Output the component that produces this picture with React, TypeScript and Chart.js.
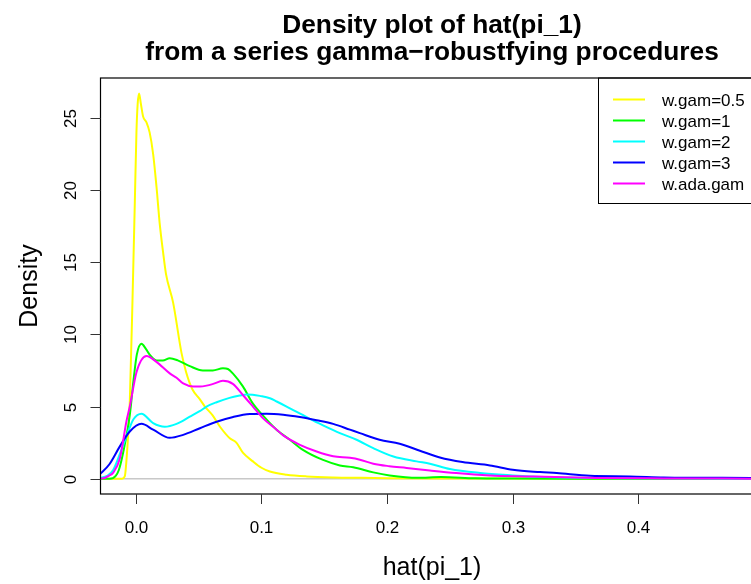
import React, { useEffect, useRef } from "react";
import { Chart, registerables } from "chart.js";

Chart.register(...registerables);

// ---- data ----
const gam05X = [-0.0287, -0.011, -0.0088, -0.007, -0.0048, -0.0026, -0.0008, 0.0005, 0.0015, 0.0026, 0.004, 0.0058, 0.0085, 0.011, 0.0138, 0.0165, 0.019, 0.0217, 0.024, 0.0297, 0.0364, 0.04, 0.045, 0.051, 0.055, 0.061, 0.067, 0.0748, 0.08, 0.0852, 0.0932, 0.1, 0.1067, 0.12, 0.136, 0.157, 0.18, 0.2, 0.25, 0.3, 0.4, 0.49];
const gam05Y = [0, 0, 0.16, 1.8, 5.3, 12.5, 19.1, 24.0, 26.0, 26.7, 26.0, 25.1, 24.7, 24.0, 22.5, 20.2, 17.7, 15.7, 14.2, 12.2, 8.7, 7.4, 6.2, 5.5, 5.0, 4.4, 3.6, 2.8, 2.5, 1.8, 1.2, 0.76, 0.5, 0.28, 0.16, 0.09, 0.06, 0.04, 0.02, 0.01, 0, 0];

const gam1X = [-0.0287, -0.0207, -0.016, -0.0135, -0.0101, -0.0048, -0.0016, 0.0008, 0.0045, 0.008, 0.011, 0.0165, 0.0215, 0.027, 0.0334, 0.043, 0.0533, 0.0613, 0.0693, 0.0733, 0.0772, 0.0852, 0.0932, 0.101, 0.112, 0.1226, 0.133, 0.149, 0.1624, 0.173, 0.189, 0.202, 0.224, 0.243, 0.27, 0.3, 0.35, 0.49];
const gam1Y = [0, 0, 0.2, 0.6, 1.8, 4.4, 7.0, 8.6, 9.35, 9.0, 8.6, 8.2, 8.2, 8.35, 8.2, 7.8, 7.5, 7.5, 7.65, 7.6, 7.3, 6.4, 5.2, 4.4, 3.4, 2.7, 2.0, 1.3, 0.92, 0.8, 0.44, 0.23, 0.06, 0.12, 0.03, 0.01, 0, 0];

const gam2X = [-0.0287, -0.0228, -0.018, -0.0102, -0.005, -0.002, 0.0045, 0.0138, 0.0231, 0.0324, 0.043, 0.0512, 0.0563, 0.0643, 0.0746, 0.0827, 0.0881, 0.093, 0.0987, 0.1067, 0.1121, 0.12, 0.1253, 0.1332, 0.1385, 0.149, 0.1624, 0.1757, 0.189, 0.205, 0.2235, 0.234, 0.25, 0.274, 0.3, 0.314, 0.34, 0.367, 0.4, 0.45, 0.49];
const gam2Y = [0.05, 0.2, 0.6, 2.3, 3.5, 4.1, 4.5, 3.85, 3.6, 3.8, 4.3, 4.7, 5.0, 5.3, 5.6, 5.76, 5.84, 5.82, 5.74, 5.58, 5.35, 5.0, 4.75, 4.4, 4.15, 3.7, 3.16, 2.7, 2.12, 1.54, 1.2, 1.04, 0.67, 0.4, 0.23, 0.16, 0.09, 0.05, 0.03, 0.01, 0];

const gam3X = [-0.0287, -0.021, -0.0127, -0.0048, 0.0045, 0.0138, 0.027, 0.0377, 0.051, 0.0643, 0.0775, 0.0908, 0.1041, 0.1173, 0.1306, 0.1439, 0.1571, 0.1704, 0.1783, 0.194, 0.21, 0.2261, 0.242, 0.26, 0.2818, 0.3, 0.3217, 0.335, 0.3615, 0.393, 0.42, 0.49];
const gam3Y = [0.3, 1.0, 2.24, 3.27, 3.8, 3.4, 2.83, 3.04, 3.5, 3.95, 4.28, 4.48, 4.5, 4.43, 4.27, 4.05, 3.8, 3.4, 3.16, 2.7, 2.42, 1.94, 1.47, 1.15, 0.92, 0.62, 0.46, 0.39, 0.2, 0.16, 0.09, 0.05];

const adaX = [-0.0287, -0.0247, -0.0215, -0.0181, -0.0127, -0.0074, -0.0048, 0.0006, 0.0085, 0.0164, 0.027, 0.0324, 0.0377, 0.0457, 0.051, 0.0563, 0.0616, 0.0693, 0.0772, 0.0852, 0.0932, 0.1011, 0.1121, 0.1173, 0.1306, 0.1439, 0.1571, 0.1704, 0.1783, 0.189, 0.2017, 0.2155, 0.234, 0.255, 0.2818, 0.31, 0.367, 0.42, 0.49];
const adaY = [0.0, 0.05, 0.2, 0.4, 1.4, 4.0, 5.0, 7.4, 8.5, 8.1, 7.3, 7.0, 6.6, 6.39, 6.39, 6.45, 6.57, 6.78, 6.57, 5.8, 5.0, 4.2, 3.4, 3.0, 2.35, 1.89, 1.56, 1.45, 1.32, 1.04, 0.87, 0.75, 0.57, 0.39, 0.23, 0.16, 0.05, 0.02, 0];

const seriesNames = ["w.gam=0.5", "w.gam=1", "w.gam=2", "w.gam=3", "w.ada.gam"];
const seriesColors = ["#FFFF00", "#00FF00", "#00FFFF", "#0000FF", "#FF00FF"];
const xTicks = [0, 0.1, 0.2, 0.3, 0.4];
const xTickLabels = ["0.0", "0.1", "0.2", "0.3", "0.4"];
const yTicks = [0, 5, 10, 15, 20, 25];
const yTickLabels = ["0", "5", "10", "15", "20", "25"];
const titleLines = ["Density plot of hat(pi_1)", "from a series gamma\u2212robustfying procedures"];
const xTitle = "hat(pi_1)";
const yTitle = "Density";

const FONT = "'Liberation Sans', Arial, Helvetica, sans-serif";

function pts(xs: number[], ys: number[]) {
  return xs.map((x, i) => ({ x, y: ys[i] }));
}

const decorPlugin = {
  id: "rdecor",
  beforeDatasetsDraw(chart: any) {
    const { ctx, chartArea, scales } = chart;
    const y0 = scales.y.getPixelForValue(0);
    ctx.save();
    ctx.strokeStyle = "#c8c8c8";
    ctx.lineWidth = 1.5;
    ctx.beginPath();
    ctx.moveTo(chartArea.left, y0);
    ctx.lineTo(chartArea.right, y0);
    ctx.stroke();
    ctx.restore();
  },
  afterDraw(chart: any) {
    const { ctx, chartArea, scales } = chart;
    const xs = scales.x;
    const ys = scales.y;
    ctx.save();
    // plot frame
    ctx.strokeStyle = "#000";
    ctx.lineWidth = 1.2;
    ctx.strokeRect(chartArea.left, chartArea.top, chartArea.right + 20 - chartArea.left, chartArea.bottom - chartArea.top);

    // x ticks
    ctx.fillStyle = "#000";
    ctx.font = `17px ${FONT}`;
    ctx.textAlign = "center";
    ctx.textBaseline = "alphabetic";
    ctx.strokeStyle = "#333";
    ctx.lineWidth = 1;
    xTicks.forEach((v, i) => {
      const px = Math.round(xs.getPixelForValue(v)) + 0.5;
      ctx.beginPath();
      ctx.moveTo(px, chartArea.bottom);
      ctx.lineTo(px, chartArea.bottom + 10);
      ctx.stroke();
      ctx.fillText(xTickLabels[i], px, 533);
    });
    // y ticks
    yTicks.forEach((v, i) => {
      const py = Math.round(ys.getPixelForValue(v)) + 0.5;
      ctx.beginPath();
      ctx.moveTo(chartArea.left - 10, py);
      ctx.lineTo(chartArea.left, py);
      ctx.stroke();
      ctx.save();
      ctx.translate(76, py);
      ctx.rotate(-Math.PI / 2);
      ctx.fillText(yTickLabels[i], 0, 0);
      ctx.restore();
    });

    // axis titles
    ctx.font = `25px ${FONT}`;
    ctx.fillText(xTitle, 432, 575);
    ctx.save();
    ctx.translate(37, (chartArea.top + chartArea.bottom) / 2);
    ctx.rotate(-Math.PI / 2);
    ctx.fillText(yTitle, 0, 0);
    ctx.restore();

    // main title
    ctx.font = `bold 26.3px ${FONT}`;
    ctx.fillText(titleLines[0], 432, 33);
    ctx.fillText(titleLines[1], 432, 60);

    // legend
    ctx.strokeStyle = "#000";
    ctx.lineWidth = 1;
    ctx.strokeRect(598.5, chartArea.top, 200, 125.5);
    ctx.font = `17px ${FONT}`;
    ctx.textAlign = "left";
    seriesNames.forEach((name, i) => {
      const ly = 99.5 + i * 21;
      ctx.strokeStyle = seriesColors[i];
      ctx.lineWidth = 2;
      ctx.beginPath();
      ctx.moveTo(613, ly);
      ctx.lineTo(645, ly);
      ctx.stroke();
      ctx.fillStyle = "#000";
      ctx.fillText(name, 662, ly + 6);
    });
    ctx.restore();
  },
};

export default function App() {
  const ref = useRef<HTMLCanvasElement | null>(null);
  useEffect(() => {
    if (!ref.current) return;
    const xsList = [gam05X, gam1X, gam2X, gam3X, adaX];
    const ysList = [gam05Y, gam1Y, gam2Y, gam3Y, adaY];
    const chart = new Chart(ref.current, {
      type: "line",
      data: {
        datasets: seriesNames.map((name, i) => ({
          label: name,
          data: pts(xsList[i], ysList[i]),
          borderColor: seriesColors[i],
          borderWidth: 2,
          pointRadius: 0,
          fill: false,
          cubicInterpolationMode: "monotone" as const,
          order: 5 - i,
        })),
      },
      options: {
        responsive: false,
        animation: false,
        devicePixelRatio: 1,
        layout: { padding: { left: 100.5, top: 78, right: 0, bottom: 90 } },
        plugins: { legend: { display: false }, title: { display: false }, tooltip: { enabled: false } },
        scales: {
          x: { type: "linear", min: -0.0281, max: 0.4896, display: false },
          y: { type: "linear", min: -1.06, max: 27.77, display: false },
        },
      },
      plugins: [decorPlugin],
    });
    return () => chart.destroy();
  }, []);
  return (
    <div style={{ position: "absolute", left: 0, top: 0, width: 751, height: 584, background: "#fff" }}>
      <canvas ref={ref} width={751} height={584} style={{ display: "block" }} />
    </div>
  );
}
